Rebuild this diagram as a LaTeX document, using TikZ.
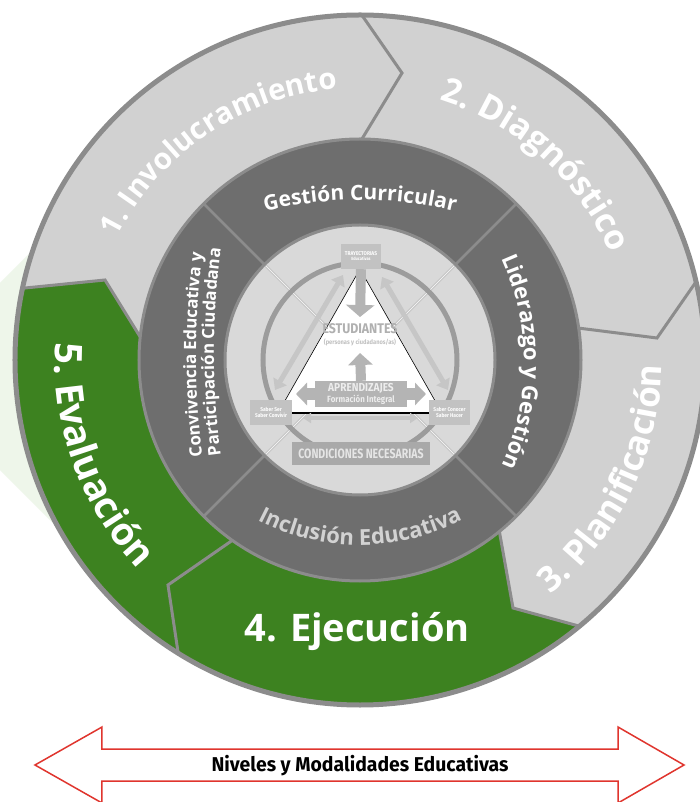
\documentclass[tikz,border=0pt]{standalone}
\usepackage{fontspec}
\setmainfont{Open Sans}
\newfontfamily\cond[FakeStretch=0.88]{Fira Sans}
\newfontfamily\condx[FakeStretch=0.78]{Fira Sans}
\newfontfamily\nivfont[FakeStretch=0.97]{Fira Sans}
\usetikzlibrary{decorations.text,arrows.meta}
\definecolor{ringgray}{HTML}{D1D1D1}
\definecolor{greenseg}{HTML}{3D8220}
\definecolor{edgegray}{HTML}{8C8C8C}
\definecolor{darkring}{HTML}{6E6E6E}
\definecolor{innerlight}{HTML}{D9D9D9}
\definecolor{circgray}{HTML}{9C9C9C}
\definecolor{arrowgray}{HTML}{B4B4B4}
\definecolor{lightarrow}{HTML}{C6C6C6}
\definecolor{boxgray}{HTML}{C2C2C2}
\definecolor{condgray}{HTML}{A9A9A9}
\definecolor{redline}{HTML}{E0352E}
\definecolor{incltext}{HTML}{D2D2D2}
\definecolor{esttext}{HTML}{B0B0B0}
\definecolor{xlinegray}{HTML}{A6A6A6}
\definecolor{faintgreen}{HTML}{EEF6EA}
\tikzset{
  seg/.style={draw=edgegray, line width=3pt, line join=miter},
  xline/.style={draw=xlinegray, line width=0.4pt, double=innerlight!40!white, double distance=1.4pt},
  diagarrow/.style={draw=lightarrow, line width=5pt, {Triangle[width=15pt,length=10pt]}-{Triangle[width=15pt,length=10pt]}},
  basearrow/.style={draw=lightarrow, line width=4pt, {Triangle[width=10pt,length=8pt]}-{Triangle[width=10pt,length=8pt]}},
  downarrow/.style={draw=arrowgray, line width=10pt, -{Triangle[width=28pt,length=12pt]}},
  uparrow/.style={draw=arrowgray, line width=10pt, -{Triangle[width=24pt,length=12pt]}},
  aprarrow/.style={draw=arrowgray, line width=12pt, {Triangle[width=22pt,length=11pt]}-{Triangle[width=22pt,length=11pt]}},
  tinybox/.style={fill=boxgray, text=white, inner sep=0pt, align=center, minimum width=41pt, minimum height=25pt, font=\cond\bfseries\fontsize{5.5}{6.5}\selectfont},
}
\begin{document}
\begin{tikzpicture}[x=1pt,y=1pt]
\useasboundingbox (-360,-442) rectangle (339,360);
\fill[white] (-360,-442) rectangle (339,360);
% faint background
\fill[faintgreen] (-360,77) -- (-300,137) -- (-300,-170) -- (-360,-110) -- cycle;
% outer ring
\fill[ringgray] (0,0) circle[radius=345];
\fill[greenseg] (168:345) -- (-255,80) -- (174:221) -- (0,0) -- (-50.9:221) -- (153,-248) -- (-50.5:345)
  arc[start angle=-50.5, end angle=-192, radius=345] -- cycle;
\draw[seg] (89.7:345) -- (42,287) -- (89.5:221);
\draw[seg] (8.3:221) -- (297,22) -- (13.1:345);
\draw[seg] (-50.9:221) -- (153,-248) -- (-50.5:345);
\draw[seg] (234.7:221) -- (-192,-225) -- (238.2:345);
\draw[seg] (168:345) -- (-255,80) -- (174:221);
\draw[edgegray, line width=5pt] (0,0) circle[radius=345];
% dark ring
\fill[darkring] (0,0) circle[radius=221];
\fill[innerlight] (0,0) circle[radius=135];
\foreach \a in {45,135,225,315}{\draw[edgegray, line width=2.5pt] (\a:135) -- (\a:221);}
\draw[edgegray, line width=3pt] (0,0) circle[radius=221];
\draw[edgegray, line width=3pt] (0,0) circle[radius=135];
% inner guide lines
\foreach \a in {45,135,225,315}{\draw[xline] (\a:133) -- (0,0);}
\draw[circgray, line width=5pt] (0,0) circle[radius=97];
% diagonal double arrows
\coordinate (dlA) at (-85,-30); \coordinate (dlB) at (-17,85);
\coordinate (drA) at (22,83); \coordinate (drB) at (88,-30);
\draw[diagarrow] (dlA) -- (dlB);
\draw[diagarrow] (drA) -- (drB);
% triangle
\coordinate (apex) at (0,91); \coordinate (bl) at (-82,-53); \coordinate (br) at (82,-53);
\fill[white] (apex) -- (bl) -- (br) -- cycle;
\draw[black, line width=0.6pt] (bl) -- (apex) -- (br);
\draw[black, line width=1.2pt] (bl) -- (br);
% base arrow
\coordinate (baL) at (-57,-58); \coordinate (baR) at (58,-58);
\draw[basearrow] (baL) -- (baR);
% students
\node[font=\cond\bfseries\fontsize{14}{14}\selectfont, text=esttext, inner sep=0pt] (est) at (0,31) {ESTUDIANTES};
\node[font=\cond\bfseries\fontsize{6.5}{7}\selectfont, text=esttext!80!white, inner sep=0pt] (estsub) at (0,18) {(personas y ciudadanos/as)};
% trayectorias
\node[tinybox, minimum width=40pt] (tray) at (1,103.5) {TRAYECTORIAS\\[-1.5pt]{\fontsize{4.5}{5}\selectfont Educativas}};
\coordinate (esttop) at (0,43);
\draw[downarrow] (tray.south) -- (esttop);
% aprendizajes
\coordinate (aprL) at (-64,-34); \coordinate (aprR) at (66,-34);
\draw[aprarrow] (aprL) -- (aprR);
\node[fill=arrowgray, text=white!93!black, minimum width=92pt, minimum height=26pt, inner sep=0pt, align=center, font=\cond\bfseries] (apr) at (1,-34)
  {{\fontsize{11.5}{12}\selectfont APRENDIZAJES}\\[-1pt]{\fontsize{9}{10}\selectfont Formación Integral}};
\coordinate (aprtip) at (0,7);
\draw[uparrow] (apr.north) -- (aprtip);
% saber boxes
\node[tinybox] (ser) at (-89,-52.5) {Saber Ser\\Saber Convivir};
\node[tinybox] (conocer) at (89.5,-52.5) {Saber Conocer\\Saber Hacer};
% condiciones
\node[fill=condgray, text=white!90!black, minimum width=138pt, minimum height=23pt, inner sep=0pt, font=\condx\bfseries\fontsize{13.5}{13.5}\selectfont] (cond) at (1,-93.5) {CONDICIONES NECESARIAS};
% dark ring labels
\path[decorate, decoration={text along path, text align=center, text color=white,
  text={|\fontsize{21}{21}\selectfont\bfseries|Gestión Curricular}}]
  (0,-245) ++(115:405) arc[start angle=115, end angle=65, radius=405];
\path[decorate, decoration={text along path, text align=center, text color=white,
  text={|\fontsize{22}{22}\selectfont\bfseries|Liderazgo y Gestión}}]
  (-88,-2) ++(35:252) arc[start angle=35, end angle=-35, radius=252];
\path[decorate, decoration={text along path, text align=center, text color=incltext,
  text={|\fontsize{22}{22}\selectfont\bfseries|Inclusión Educativa}}]
  (0,38) ++(235:223) arc[start angle=235, end angle=305, radius=223];
\path[decorate, decoration={text along path, text align=center, text color=white,
  text={|\fontsize{17}{17}\selectfont\bfseries|Convivencia Educativa y}}]
  (636,5) ++(192:800) arc[start angle=192, end angle=168, radius=800];
\path[decorate, decoration={text along path, text align=center, text color=white,
  text={|\fontsize{17}{17}\selectfont\bfseries|Participación Ciudadana}}]
  (636,8) ++(192:782) arc[start angle=192, end angle=168, radius=782];
% outer ring labels
\path[decorate, decoration={text along path, text align=center, text color=white,
  text={|\fontsize{29.5}{29.5}\selectfont\bfseries|1. Involucramiento}}]
  (204:272) arc[start angle=204, end angle=44, radius=272];
\path[decorate, decoration={text along path, text align=center, text color=white,
  text={|\fontsize{34}{34}\selectfont\bfseries|2. Diagnóstico}}]
  (128:272) arc[start angle=128, end angle=-32, radius=272];
\path[decorate, decoration={text along path, text align=center, text color=white,
  text={|\fontsize{35}{35}\selectfont\bfseries|3. Planificación}}]
  (-106:302) arc[start angle=-106, end angle=54, radius=302];
\path[decorate, decoration={text along path, text align=center, text color=white,
  text={|\fontsize{38}{38}\selectfont\bfseries|5. Evaluación}}]
  (120:305) arc[start angle=120, end angle=280, radius=305];
\node[font=\fontsize{38}{38}\selectfont\bfseries, text=white, inner sep=0pt] (ejec) at (-3,-272) {4. Ejecución};
% bottom arrow
\draw[redline, line width=1.5pt, fill=white, line join=miter]
  (-325,-405) -- (-258,-367) -- (-258,-389) -- (258,-389) -- (258,-367) -- (324,-405)
  -- (258,-443) -- (258,-421) -- (-258,-421) -- (-258,-443) -- cycle;
\node[font=\nivfont\bfseries\fontsize{20}{20}\selectfont, text=black, inner sep=0pt] (niveles) at (0,-406) {Niveles y Modalidades Educativas};
\end{tikzpicture}
\end{document}
